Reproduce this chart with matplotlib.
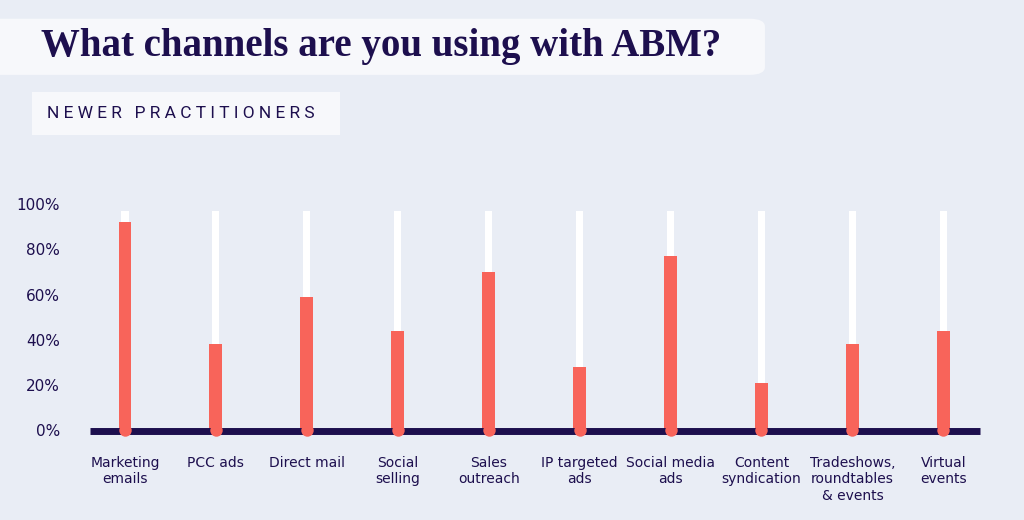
import matplotlib.pyplot as plt
from matplotlib.patches import FancyBboxPatch

channels = ["Marketing\nemails", "PCC ads", "Direct mail", "Social\nselling", "Sales\noutreach",
            "IP targeted\nads", "Social media\nads", "Content\nsyndication",
            "Tradeshows,\nroundtables\n& events", "Virtual\nevents"]
values = [92, 38, 59, 44, 70, 28, 77, 21, 38, 44]
track = [97] * len(values)

BG = "#e9edf5"
NAVY = "#1d0f4e"
RED = "#f8645a"

fig = plt.figure(figsize=(10.24, 5.2), dpi=100, facecolor=BG)

# title / subtitle boxes
fig.patches.append(FancyBboxPatch((-0.02, 0.856), 0.767, 0.108, boxstyle="round,pad=0,rounding_size=0.015",
                                  transform=fig.transFigure, fc="#f7f8fb", ec="none"))
fig.text(0.04, 0.91, "What channels are you using with ABM?", fontsize=28, fontweight="bold",
         family="Liberation Serif", color=NAVY, va="center")
fig.patches.append(FancyBboxPatch((0.031, 0.74), 0.301, 0.083, boxstyle="square,pad=0",
                                  transform=fig.transFigure, fc="#f7f8fb", ec="none"))
fig.text(0.046, 0.781, "N E W E R   P R A C T I T I O N E R S", fontsize=12.5,
         color=NAVY, va="center", family="Roboto", fontstretch="condensed")

ax = fig.add_axes([0.0776, 0.160, 0.888, 0.469], facecolor=BG)
x = range(len(values))
ax.bar(x, track, width=0.08, color="white", zorder=1)
ax.bar(x, values, width=0.14, color=RED, zorder=2)
ax.scatter(x, [0] * len(values), s=80, color=RED, zorder=4, linewidths=0)
ax.plot([-0.38, 9.4], [-0.5, -0.5], color=NAVY, lw=5, zorder=3, solid_capstyle="butt")

ax.set_xlim(-0.5, 9.5)
ax.set_ylim(-3, 105)
ax.set_yticks([0, 20, 40, 60, 80, 100])
ax.set_yticklabels([f"{v}%" for v in [0, 20, 40, 60, 80, 100]])
ax.set_xticks(list(x))
ax.set_xticklabels(channels)
ax.tick_params(length=0, colors=NAVY, labelsize=10)
ax.tick_params(axis="x", pad=14)
ax.tick_params(axis="y", pad=14, labelsize=11)
for lab in ax.get_xticklabels() + ax.get_yticklabels():
    lab.set_fontweight("medium")
for s in ax.spines.values():
    s.set_visible(False)

fig.savefig("out.png", facecolor=BG)
